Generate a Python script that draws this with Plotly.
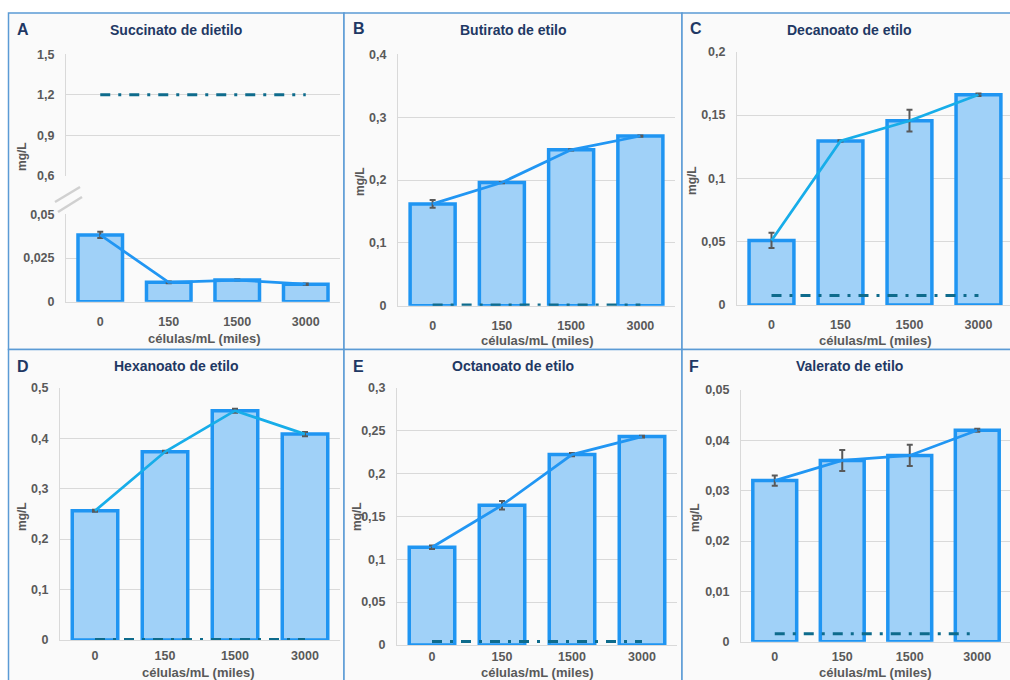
import plotly.graph_objects as go

W, H = 1010, 680

# Cell density categories (thousand cells/mL)
celulas = ["0", "150", "1500", "3000"]

# Mean concentrations (mg/L) and their standard deviations
succinato = [0.0382, 0.0111, 0.0124, 0.0100]
succinato_err = [0.0018, 0.0005, 0.0003, 0.0004]
succinato_umbral = 1.2

butirato = [0.162, 0.196, 0.248, 0.270]
butirato_err = [0.006, 0.001, 0.001, 0.001]
butirato_umbral = 0.001

decanoato = [0.051, 0.1295, 0.1455, 0.166]
decanoato_err = [0.006, 0.0005, 0.0086, 0.001]
decanoato_umbral = 0.0075

hexanoato = [0.256, 0.373, 0.4545, 0.408]
hexanoato_err = [0.002, 0.002, 0.004, 0.004]
hexanoato_umbral = 0.001

octanoato = [0.114, 0.163, 0.222, 0.243]
octanoato_err = [0.002, 0.005, 0.002, 0.001]
octanoato_umbral = 0.004

valerato = [0.032, 0.036, 0.037, 0.042]
valerato_err = [0.001, 0.0021, 0.0021, 0.0003]
valerato_umbral = 0.0016

BAR_FILL = "#a0d1f8"
BAR_EDGE = "#1f95f2"
LINE_BLUE = "#2196f3"
LINE_CYAN = "#17ade9"
THR_COLOR = "#0e6b8c"
ERR_COLOR = "#595959"
GRID = "#d9d9d9"
TXT = "#595959"
NAVY = "#1f3864"
BORDER = "#5b9bd5"
FONT = "Liberation Sans"
THR_DASH = "10px,8px,3px,8px"


def px_x(px):
    return px / W


def px_y(py):
    return 1 - py / H


fig = go.Figure()


def add_panel(xa, ya, vals, errs, thr, line_color):
    xref = "x" if xa == 1 else f"x{xa}"
    yref = "y" if ya == 1 else f"y{ya}"
    fig.add_trace(go.Bar(
        x=celulas, y=vals, xaxis=xref, yaxis=yref, width=0.65,
        marker=dict(color=BAR_FILL, line=dict(color=BAR_EDGE, width=3.5)),
        hoverinfo="skip"))
    if thr is not None:
        fig.add_trace(go.Scatter(
            x=[celulas[0], celulas[-1]], y=[thr, thr], xaxis=xref, yaxis=yref,
            mode="lines", line=dict(color=THR_COLOR, width=3, dash=THR_DASH),
            hoverinfo="skip"))
    fig.add_trace(go.Scatter(
        x=celulas, y=vals, xaxis=xref, yaxis=yref, mode="lines",
        line=dict(color=line_color, width=2.75),
        error_y=dict(type="data", array=errs, visible=True, color=ERR_COLOR,
                     thickness=2, width=3),
        hoverinfo="skip"))


# Panel A: lower segment carries bars, upper segment carries the threshold
add_panel(1, 1, succinato, succinato_err, None, LINE_BLUE)
fig.add_trace(go.Scatter(
    x=[celulas[0], celulas[-1]], y=[succinato_umbral, succinato_umbral],
    xaxis="x2", yaxis="y2", mode="lines",
    line=dict(color=THR_COLOR, width=3, dash=THR_DASH), hoverinfo="skip"))
add_panel(3, 3, butirato, butirato_err, butirato_umbral, LINE_BLUE)
add_panel(4, 4, decanoato, decanoato_err, decanoato_umbral, LINE_CYAN)
add_panel(5, 5, hexanoato, hexanoato_err, hexanoato_umbral, LINE_CYAN)
add_panel(6, 6, octanoato, octanoato_err, octanoato_umbral, LINE_BLUE)
add_panel(7, 7, valerato, valerato_err, valerato_umbral, LINE_BLUE)

tick_font = dict(family=FONT, size=12.5, color=TXT, weight="bold")


def xaxis(x0, x1, anchor, rng=(-0.5, 3.5), labels=True, ticklen=8):
    return dict(domain=[px_x(x0), px_x(x1)], anchor=anchor, type="category",
                categoryorder="array", categoryarray=celulas,
                range=list(rng), showgrid=False, zeroline=False, automargin=False,
                showline=labels, linecolor=GRID, linewidth=1,
                showticklabels=labels, ticks="outside" if labels else "",
                ticklen=ticklen, tickcolor="rgba(0,0,0,0)", tickfont=tick_font,
                fixedrange=True)


def yaxis(y_top, y_bot, anchor, rng, vals, text):
    return dict(domain=[px_y(y_bot), px_y(y_top)], anchor=anchor, range=list(rng),
                tickvals=vals, ticktext=text, showgrid=True, gridcolor=GRID,
                gridwidth=1, zeroline=False, showline=True, linecolor=GRID,
                linewidth=1, ticks="outside", ticklen=8, automargin=False,
                tickcolor="rgba(0,0,0,0)", tickfont=tick_font, fixedrange=True)


fig.update_layout(
    template="none",
    width=W, height=H, margin=dict(l=0, r=0, t=0, b=0, pad=0), autosize=False,
    paper_bgcolor="white", plot_bgcolor="rgba(0,0,0,0)",
    showlegend=False, hovermode=False, barmode="overlay",
    xaxis=xaxis(66, 340, "y"),
    yaxis=yaxis(214.3, 301.7, "x", (0, 0.05), [0, 0.025, 0.05], ["0", "0,025", "0,05"]),
    xaxis2=xaxis(66, 340, "y2", labels=False),
    yaxis2=yaxis(54.3, 175.7, "x2", (0.6, 1.5), [0.6, 0.9, 1.2, 1.5],
                 ["0,6", "0,9", "1,2", "1,5"]),
    xaxis3=xaxis(398, 675, "y3"),
    yaxis3=yaxis(54.3, 305.7, "x3", (0, 0.4), [0, 0.1, 0.2, 0.3, 0.4],
                 ["0", "0,1", "0,2", "0,3", "0,4"]),
    xaxis4=xaxis(737, 1010, "y4", rng=(-0.5, 3.457)),
    yaxis4=yaxis(51.7, 305, "x4", (0, 0.2), [0, 0.05, 0.1, 0.15, 0.2],
                 ["0", "0,05", "0,1", "0,15", "0,2"]),
    xaxis5=xaxis(60, 340, "y5", ticklen=4),
    yaxis5=yaxis(387.7, 640, "x5", (0, 0.5), [0, 0.1, 0.2, 0.3, 0.4, 0.5],
                 ["0", "0,1", "0,2", "0,3", "0,4", "0,5"]),
    xaxis6=xaxis(397, 677, "y6", ticklen=0),
    yaxis6=yaxis(387.7, 645, "x6", (0, 0.3), [0, 0.05, 0.1, 0.15, 0.2, 0.25, 0.3],
                 ["0", "0,05", "0,1", "0,15", "0,2", "0,25", "0,3"]),
    xaxis7=xaxis(741, 1010, "y7", rng=(-0.5, 3.485), ticklen=3),
    yaxis7=yaxis(390, 641.7, "x7", (0, 0.05), [0, 0.01, 0.02, 0.03, 0.04, 0.05],
                 ["0", "0,01", "0,02", "0,03", "0,04", "0,05"]),
)

# Panel frames
shapes = []
frames = [(8.5, 13, 344, 349.5), (344, 13, 682, 349.5), (682, 13, 1030, 349.5),
          (8.5, 349.5, 344, 700), (344, 349.5, 682, 700), (682, 349.5, 1030, 700)]
for x0, y0, x1, y1 in frames:
    shapes.append(dict(type="rect", xref="paper", yref="paper", layer="below",
                       x0=px_x(x0), x1=px_x(x1), y0=px_y(y1), y1=px_y(y0),
                       fillcolor="#fafafa", line=dict(color=BORDER, width=1.5)))
# Axis break marks on panel A
for (xa, ya, xb, yb) in [(55, 202, 80, 187), (58, 212, 82, 197)]:
    shapes.append(dict(type="line", xref="paper", yref="paper",
                       x0=px_x(xa), y0=px_y(ya), x1=px_x(xb), y1=px_y(yb),
                       line=dict(color="#d0d0d0", width=2.5)))
fig.update_layout(shapes=shapes)

ann = []


def text(x, y, s, size, color, angle=0, xanchor="center"):
    ann.append(dict(xref="paper", yref="paper", x=px_x(x), y=px_y(y), text=s,
                    showarrow=False, textangle=angle, xanchor=xanchor,
                    yanchor="middle", font=dict(family=FONT, size=size, color=color)))


titles = [("A", 15, 30, 176, 30, "Succinato de dietilo"),
          ("B", 351, 29, 513, 30, "Butirato de etilo"),
          ("C", 688, 29, 849, 30, "Decanoato de etilo"),
          ("D", 15, 366, 176, 366, "Hexanoato de etilo"),
          ("E", 351, 366, 513, 366, "Octanoato de etilo"),
          ("F", 687, 366, 849, 366, "Valerato de etilo")]
for letter, lx, ly, tx, ty, name in titles:
    text(lx, ly, f"<b>{letter}</b>", 16, NAVY, xanchor="left")
    text(tx, ty, f"<b>{name}</b>", 14, NAVY)

for x, y in [(22, 157), (360, 182), (692, 181), (22, 517), (357, 517), (695, 518)]:
    text(x, y, "<b>mg/L</b>", 12, TXT, angle=-90)

for x, y in [(204, 338), (537, 340), (875, 340), (198, 672), (537, 672), (875, 672)]:
    text(x, y, "<b>células/mL (miles)</b>", 13, TXT)

fig.update_layout(annotations=ann)
fig.write_html("out.html", config={"displayModeBar": False})
